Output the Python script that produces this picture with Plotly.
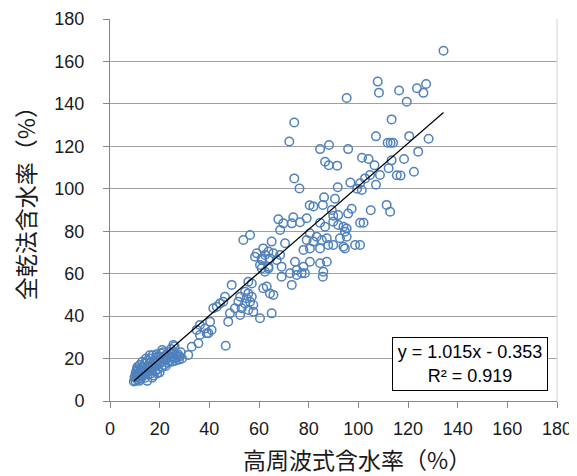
import plotly.graph_objects as go

# Data: high-frequency moisture content (x) vs oven-dry moisture content (y), in %
hf_high = [134.3, 107.8, 108.3, 116.4, 123.6, 127.3, 126.2, 119.5, 95.3, 113.4,
           74.2, 72.2, 107.1, 120.5, 128.3, 111.8, 113.0, 114.0, 84.6, 88.2,
           95.9, 124.1, 101.5, 104.1, 118.4, 86.6, 88.1, 91.5, 106.5, 113.4,
           112.2, 115.5, 117.0, 122.4, 108.7, 104.7, 102.7, 74.2, 76.3, 91.7,
           96.8, 100.7, 101.4, 107.1, 99.5, 86.2, 90.6, 80.4, 81.9, 85.7,
           97.3, 95.9, 105.0, 111.4, 112.8, 89.3, 89.9, 91.9, 100.7, 102.1, 84.6]
dry_high = [165.0, 150.5, 145.3, 146.3, 147.4, 149.4, 145.2, 141.0, 142.8, 132.7,
            131.2, 122.3, 124.7, 124.8, 123.6, 121.7, 121.7, 121.7, 118.7, 120.6,
            118.7, 117.5, 114.6, 114.0, 114.0, 112.7, 111.1, 110.9, 111.1, 113.4,
            109.7, 106.4, 106.2, 108.0, 106.5, 106.5, 104.9, 104.9, 100.1, 100.7,
            102.9, 102.6, 99.4, 101.9, 100.0, 96.0, 95.3, 92.2, 91.7, 92.4,
            90.6, 88.3, 89.9, 92.4, 89.2, 90.0, 87.3, 87.6, 84.0, 84.0, 84.0]

hf_mid = [67.8, 69.8, 73.8, 73.2, 76.5, 79.2, 68.5, 86.6, 53.7, 56.4,
          80.5, 83.2, 79.2, 81.9, 85.3, 87.3, 77.9, 80.5, 84.6, 87.9,
          65.1, 70.5, 61.7, 63.8, 59.1, 65.8, 68.5, 61.1, 64.4, 67.1,
          69.1, 63.8, 61.1, 72.5, 75.2, 77.2, 80.5, 77.9, 75.2, 69.1,
          84.6, 85.9, 87.3, 91.9, 94.0, 95.3, 94.6, 92.6, 95.3, 98.7,
          100.7, 89.9, 94.0, 94.6, 89.9, 73.2, 85.7, 74.5, 62.4, 58.4,
          61.1, 60.4, 63.8, 62.4, 63.1, 65.8, 64.4, 78.5]
dry_mid = [85.6, 83.7, 86.6, 83.7, 84.2, 86.1, 80.6, 82.1, 75.9, 78.2,
           79.0, 77.4, 75.9, 75.1, 75.9, 76.7, 71.2, 71.9, 71.9, 73.5,
           75.1, 74.3, 71.9, 70.4, 69.6, 69.6, 68.8, 66.4, 67.2, 66.4,
           63.3, 63.3, 62.5, 60.2, 59.4, 60.2, 65.6, 63.3, 61.7, 58.6,
           64.9, 60.9, 65.6, 82.9, 82.1, 81.3, 79.8, 76.7, 77.4, 73.5,
           73.5, 73.5, 72.7, 71.9, 84.5, 54.7, 58.6, 65.6, 68.8, 68.0,
           67.2, 64.1, 62.5, 60.9, 53.9, 50.0, 50.7, 60.2]

hf_low = [49.0, 55.7, 57.1, 61.7, 54.4, 55.7, 52.4, 55.0, 57.1, 51.7,
          54.4, 56.4, 57.7, 50.3, 53.0, 55.7, 57.7, 60.4, 52.4, 48.3,
          47.6, 45.6, 44.3, 43.0, 41.6, 46.3, 40.3, 36.2, 38.3, 40.9,
          38.9, 34.9, 65.1, 46.6, 35.6, 32.9, 31.5, 25.5, 39.6, 36.2]
dry_low = [54.7, 56.2, 55.4, 53.1, 51.5, 50.7, 49.1, 48.4, 49.1, 46.8,
           46.0, 46.8, 45.2, 43.7, 43.7, 42.9, 42.1, 39.0, 40.5, 41.3,
           37.4, 46.8, 46.0, 44.4, 43.7, 49.1, 37.4, 35.8, 34.2, 33.5,
           31.9, 33.5, 41.3, 26.0, 27.2, 25.6, 21.7, 26.4, 31.9, 31.1]

hf_cluster = [10.2, 10.5, 10.8, 10.3, 10.6, 11.0, 11.2, 11.5, 11.3, 11.8,
              12.0, 12.2, 12.5, 12.4, 12.8, 13.0, 13.2, 13.5, 13.8, 14.0,
              14.2, 14.5, 14.8, 15.0, 15.2, 15.5, 15.8, 16.0, 16.2, 16.5,
              16.8, 17.0, 17.2, 17.5, 17.8, 18.0, 18.2, 18.5, 18.8, 19.0,
              19.3, 19.5, 19.8, 20.0, 20.3, 20.5, 20.8, 21.0, 21.3, 21.5,
              21.8, 22.0, 22.3, 22.5, 22.8, 23.0, 23.3, 23.5, 23.8, 24.0,
              24.3, 24.6, 25.0, 25.3, 25.6, 26.0, 26.3, 26.7, 27.0, 27.4,
              27.8, 28.0, 26.0, 11.0, 12.0, 13.0, 14.5, 16.0, 15.0, 17.0,
              19.0, 10.8, 21.0, 24.5, 28.5, 29.0, 9.6, 9.9]
dry_cluster = [9.5, 11.0, 12.5, 13.0, 14.0, 10.0, 11.5, 13.0, 14.5, 9.5,
               12.0, 14.0, 15.5, 10.5, 11.8, 13.2, 16.0, 12.0, 14.2, 17.5,
               11.0, 13.5, 15.0, 19.0, 12.5, 16.0, 14.0, 18.0, 20.0, 13.0,
               15.5, 17.0, 21.5, 12.0, 19.0, 16.0, 14.0, 20.5, 22.0, 17.5,
               15.0, 19.0, 21.0, 13.5, 18.0, 22.5, 16.0, 20.0, 18.5, 23.0,
               17.0, 21.0, 19.5, 16.5, 22.0, 20.5, 18.0, 21.5, 23.0, 19.0,
               20.5, 22.0, 18.5, 21.0, 23.0, 20.0, 19.0, 21.5, 20.5, 22.0,
               19.5, 21.0, 25.8, 16.0, 17.0, 18.5, 20.0, 21.5, 9.5, 11.0,
               13.0, 15.0, 24.0, 24.5, 23.0, 20.0, 9.2, 11.2]

hf = hf_high + hf_mid + hf_low + hf_cluster
dry = dry_high + dry_mid + dry_low + dry_cluster

slope = 1.015
intercept = -0.353
eq_text = "y = 1.015x - 0.353"
r2_text = "R² = 0.919"
x_title = "高周波式含水率（%）"
y_title = "全乾法含水率（%）"
axis_ticks = [0, 20, 40, 60, 80, 100, 120, 140, 160, 180]

x_line = [min(hf), max(hf)]
y_line = [slope * v + intercept for v in x_line]

fig = go.Figure()
fig.add_trace(go.Scatter(
    x=hf, y=dry, mode="markers",
    marker=dict(symbol="circle-open", size=8.5, color="#4f81bd",
                line=dict(width=1.5, color="#4f81bd")),
    hoverinfo="x+y"))
fig.add_trace(go.Scatter(
    x=x_line, y=y_line, mode="lines",
    line=dict(color="black", width=1.2), hoverinfo="skip"))

tickfont = dict(family="Liberation Sans", size=18, color="#1a1a1a")
axis_common = dict(
    range=[0, 180], tickvals=axis_ticks, ticktext=[str(t) for t in axis_ticks],
    showline=True, linecolor="#868686", linewidth=1,
    ticks="outside", ticklen=6, tickcolor="#868686", tickwidth=1,
    tickfont=tickfont, zeroline=False, fixedrange=True, automargin=False)

fig.update_xaxes(**axis_common, showgrid=False, ticklabelstandoff=5)
fig.update_yaxes(**axis_common, showgrid=True, gridcolor="#a0a0a0", gridwidth=1,
                 ticklabelstandoff=15)

# page body has an 8px margin, so the figure is sized to fit inside the window
fig.update_layout(
    width=569, height=468,
    margin=dict(l=102, r=20, t=11, b=75),
    plot_bgcolor="white", paper_bgcolor="white",
    showlegend=False,
    shapes=[dict(type="line", xref="paper", yref="paper", x0=1, x1=1, y0=0, y1=1,
                 line=dict(color="#d0d0d0", width=1))],
    annotations=[
        dict(text=eq_text + "<br>" + r2_text, xref="paper", yref="paper",
             x=0.805, y=0.0977, xanchor="center", yanchor="middle",
             showarrow=False, align="center",
             font=dict(family="Liberation Sans", size=18, color="black"),
             bordercolor="black", borderwidth=1, borderpad=2, bgcolor="white",
             width=150, height=48),
        dict(text=x_title, xref="paper", yref="paper", x=0.553, y=-0.152,
             xanchor="center", yanchor="middle", showarrow=False,
             font=dict(family="Noto Sans CJK JP", size=23, color="#1a1a1a")),
        dict(text=y_title, xref="paper", yref="paper", x=-0.19, y=0.531,
             xanchor="center", yanchor="middle", showarrow=False, textangle=-90,
             font=dict(family="Noto Sans CJK JP", size=23, color="#1a1a1a")),
    ],
)

fig.write_html("out.html")
